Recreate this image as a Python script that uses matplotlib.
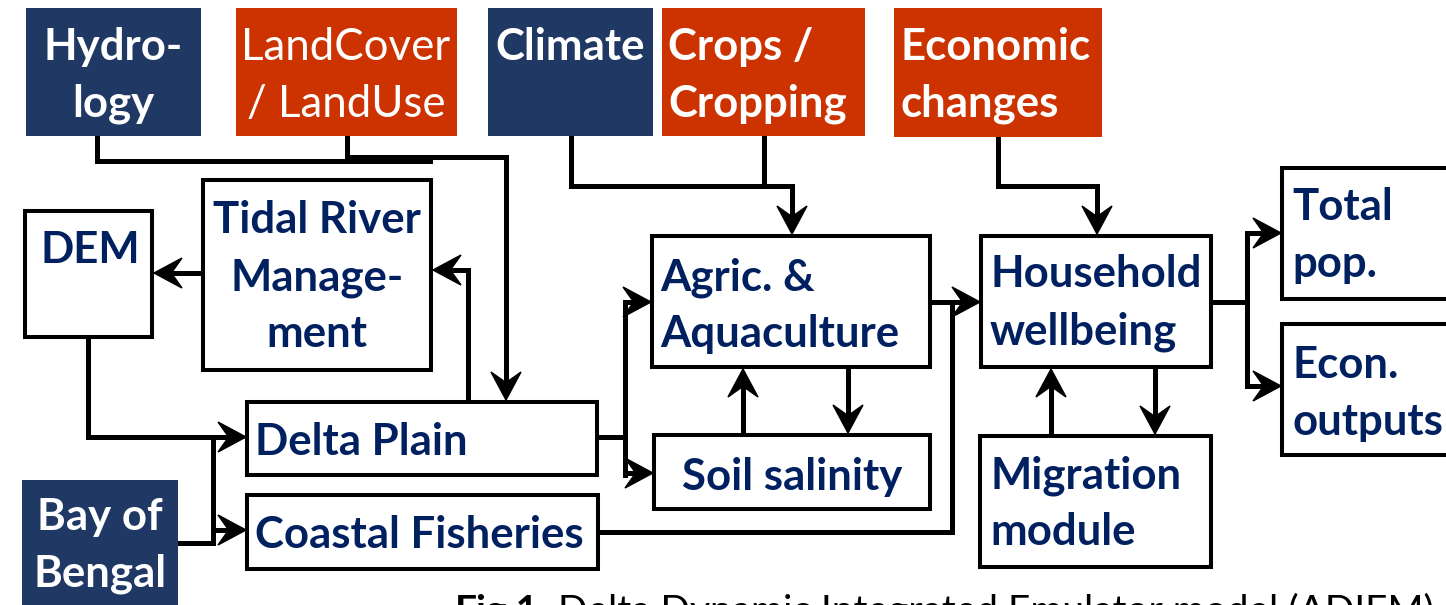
import matplotlib
matplotlib.use("Agg")
import matplotlib.pyplot as plt
from matplotlib.patches import Rectangle, Polygon

W, H = 1446, 605
NAVY = "#203864"
ORANGE = "#CC3300"
TXT = "#002060"
FONT = ["Lato", "DejaVu Sans"]
FS = 31.5

# node: (x0, y0, x1, y1), fill, text lines, text x, first baseline, align, bold
node_names = ["Hydrology", "LandCover", "Climate", "Crops", "Economic",
              "DEM", "TRM", "DeltaPlain", "Fisheries", "Agric", "Soil",
              "Household", "Migration", "TotalPop", "Econ", "Bay"]
node_boxes = [(26, 8, 201, 136), (236, 8, 457, 136), (488, 8, 653, 136),
              (662, 8, 865, 136), (894, 8, 1102, 137),
              (25, 211, 152, 337), (203, 180, 431, 370), (247, 402, 597, 475),
              (247, 495, 598, 569), (652, 236, 930, 367), (654, 435, 930, 509),
              (981, 236, 1211, 367), (980, 436, 1211, 567), (1282, 168, 1460, 299),
              (1282, 324, 1460, 455), (22, 480, 178, 620)]
node_fill = ["navy", "orange", "navy", "orange", "orange",
             "white", "white", "white", "white", "white", "white",
             "white", "white", "white", "white", "navy"]
node_text = [["Hydro-", "logy"], ["LandCover", "/ LandUse"], ["Climate"],
             ["Crops /", "Cropping"], ["Economic", "changes"],
             ["DEM"], ["Tidal River", "Manage-", "ment"], ["Delta Plain"],
             ["Coastal Fisheries"], ["Agric. &", "Aquaculture"], ["Soil salinity"],
             ["Household", "wellbeing"], ["Migration", "module"], ["Total", "pop."],
             ["Econ.", "outputs"], ["Bay of", "Bengal"]]
node_tx = [113, 346, 495, 668, 900, 40, 317, 255, 255, 660, 792, 990, 990, 1292, 1292, 100]
node_ty = [60, 60, 60, 60, 60, 263, 233, 455, 548, 290, 490, 287, 488, 220, 378, 530]
node_ha = ["center", "center", "left", "left", "left", "left", "center", "left",
           "left", "left", "center", "left", "left", "left", "left", "center"]
node_bold = [True, False, True, True, True] + [True] * 11
LINE_STEP = 57

# connectors: polylines, last point gets an arrowhead if flagged
links = [
    ([(97, 136), (97, 161), (430, 161)], False),
    ([(347, 136), (347, 157), (506, 157), (506, 400)], True),
    ([(203, 273), (154, 273)], True),
    ([(468, 402), (468, 270), (433, 270)], True),
    ([(88, 337), (88, 437), (246, 437)], True),
    ([(178, 543), (213, 543), (213, 437)], False),
    ([(213, 530), (246, 530)], True),
    ([(597, 437), (625, 437)], False),
    ([(625, 475), (625, 302), (651, 302)], True),
    ([(625, 473), (653, 473)], True),
    ([(743, 435), (743, 369)], True),
    ([(848, 367), (848, 433)], True),
    ([(930, 302), (980, 302)], True),
    ([(598, 532), (952, 532), (952, 302)], False),
    ([(571, 136), (571, 186), (792, 186), (792, 234)], True),
    ([(764, 136), (764, 186)], False),
    ([(998, 137), (998, 186), (1097, 186), (1097, 234)], True),
    ([(1051, 436), (1051, 369)], True),
    ([(1155, 367), (1155, 434)], True),
    ([(1211, 302), (1247, 302)], False),
    ([(1247, 233), (1247, 386)], False),
    ([(1247, 233), (1281, 233)], True),
    ([(1247, 386), (1281, 386)], True),
]

caption_bold = "Fig.1."
caption_rest = " Delta Dynamic Integrated Emulator model (\u0394DIEM)"

fig = plt.figure(figsize=(W / 100, H / 100), dpi=100)
ax = fig.add_axes([0, 0, 1, 1])
ax.set_xlim(0, W)
ax.set_ylim(H, 0)
ax.axis("off")

fills = {"navy": NAVY, "orange": ORANGE, "white": "white"}
for (x0, y0, x1, y1), f, lines, tx, ty, ha, bold in zip(
        node_boxes, node_fill, node_text, node_tx, node_ty, node_ha, node_bold):
    if f == "white":
        ax.add_patch(Rectangle((x0, y0), x1 - x0, y1 - y0, facecolor="white",
                               edgecolor="black", lw=2.9, zorder=2))
        col = TXT
    else:
        ax.add_patch(Rectangle((x0, y0), x1 - x0, y1 - y0, facecolor=fills[f],
                               edgecolor="none", zorder=2))
        col = "white"
    for i, s in enumerate(lines):
        ax.text(tx, ty + i * LINE_STEP, s, ha=ha, va="baseline", color=col,
                fontsize=FS, family=FONT, fontweight="bold" if bold else "normal",
                zorder=3)


def arrowhead(tip, prev, L=28, Wd=15, notch=0.38):
    dx, dy = tip[0] - prev[0], tip[1] - prev[1]
    n = (dx * dx + dy * dy) ** 0.5
    ux, uy = dx / n, dy / n
    px, py = -uy, ux
    bx, by = tip[0] - ux * L, tip[1] - uy * L
    nx, ny = tip[0] - ux * L * (1 - notch), tip[1] - uy * L * (1 - notch)
    pts = [tip, (bx + px * Wd, by + py * Wd), (nx, ny), (bx - px * Wd, by - py * Wd)]
    ax.add_patch(Polygon(pts, closed=True, facecolor="black", edgecolor="black",
                         lw=1.0, zorder=4))
    return (tip[0] - ux * L * 0.5, tip[1] - uy * L * 0.5)


for pts, has_arrow in links:
    pts = list(pts)
    if has_arrow:
        pts[-1] = arrowhead(pts[-1], pts[-2])
    xs = [p[0] for p in pts]
    ys = [p[1] for p in pts]
    ax.plot(xs, ys, color="black", lw=3.6, solid_joinstyle="miter",
            solid_capstyle="projecting", zorder=1)

CAP_Y = 623
CAP_FS = 28
t = ax.text(455, CAP_Y, caption_bold, ha="left", va="baseline", color="black",
            fontsize=CAP_FS, family=FONT, fontweight="bold")
fig.canvas.draw()
bb = t.get_window_extent()
x_next = ax.transData.inverted().transform((bb.x1, bb.y0))[0]
ax.text(x_next, CAP_Y, caption_rest, ha="left", va="baseline", color="black",
        fontsize=CAP_FS, family=FONT)

fig.savefig("out.png", dpi=100)
